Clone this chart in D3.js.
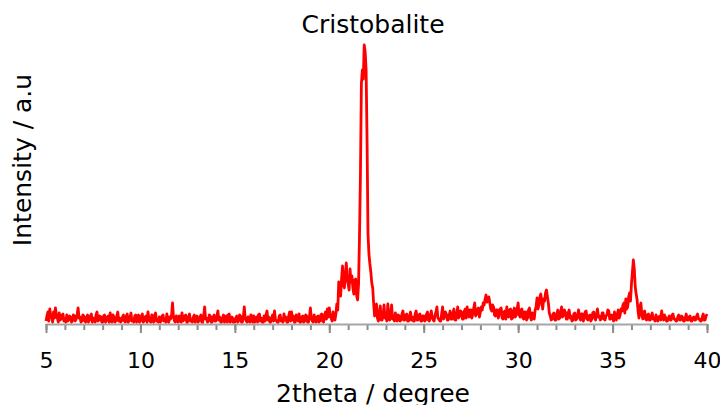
<!DOCTYPE html>
<html>
<head>
<meta charset="utf-8">
<script src="https://cdn.jsdelivr.net/npm/d3@7"></script>
<style>
body { margin: 0; background: #fff; }
text { font-family: "DejaVu Sans", sans-serif; fill: #000; }
</style>
</head>
<body>
<svg width="720" height="405"></svg>
<script>
// XRD pattern, 2theta 5..40 step 0.05, intensity in arbitrary units
var thetaStart = 5, thetaStep = 0.05
var intensity = [
  3,8, 12,3, 15,9, 7,2, 12,6, 16,9, 6,2, 11,4, 5,9, 10,3,          // 5
  5,2, 9,3, 4,8, 7,2, 3,9, 8,3, 5,10, 16,6, 7,2, 3,9,              // 6
  8,3, 2,7, 9,2, 4,8, 10,2, 6,3, 2,9, 12,3, 4,8, 7,2,              // 7
  2,8, 9,2, 3,7, 8,2, 11,3, 2,9, 7,2, 3,8, 12,3, 6,2,              // 8
  3,7, 9,3, 2,8, 10,2, 3,7, 11,3, 4,2, 8,9, 2,6, 9,2,              // 9
  3,8, 10,2, 3,7, 8,2, 12,5, 3,2, 9,3, 2,9, 11,3, 4,2,             // 10
  7,2, 3,8, 9,3, 4,2, 10,3, 2,7, 5,9, 21,7, 3,2, 8,3,              // 11
  2,8, 7,2, 11,3, 4,8, 9,2, 2,7, 10,3, 3,2, 7,9, 2,5,              // 12
  8,2, 3,7, 9,2, 2,8, 17,5, 6,2, 3,9, 8,2, 2,7, 9,3,               // 13
  3,8, 13,4, 7,2, 2,6, 9,2, 3,8, 2,9, 10,2, 3,7, 2,5,              // 14
  2,6, 8,2, 3,9, 8,2, 2,7, 17,6, 3,2, 7,3, 2,9, 8,2,               // 15
  8,2, 3,7, 2,9, 10,3, 6,2, 2,8, 3,9, 13,4, 7,2, 2,6,              // 16
  9,3, 13,5, 3,2, 2,8, 9,3, 3,2, 10,4, 7,2, 2,8, 12,3,             // 17
  12,4, 8,2, 2,9, 7,3, 10,2, 2,7, 8,2, 3,9, 8,2, 2,7,              // 18
  16,6, 3,2, 9,3, 2,7, 8,2, 3,9, 10,3, 2,9, 12,5, 15,7,            // 19
  16,8, 6,3, 12,7, 4,10, 20,14, 42,30, 28,45, 58,40, 36,50, 61,44, // 20
  40,34, 55,42, 48,36, 30,44, 45,28, 24,40, 88,150, 240,254, 245,279, 272,254, // 21
  184,90, 70,60, 52,41, 36,20, 8,14, 20,6, 3,10, 18,4, 4,9, 19,6,  // 22
  6,3, 20,7, 4,10, 19,5, 6,3, 11,4, 3,9, 8,3, 4,10, 13,4,          // 23
  4,9, 10,3, 3,8, 12,4, 7,3, 3,10, 13,4, 4,9, 10,3, 3,8,           // 24
  8,3, 4,10, 12,4, 3,8, 13,6, 4,3, 9,12, 17,6, 5,3, 3,10,          // 25
  17,5, 7,12, 10,4, 4,9, 13,5, 5,11, 15,4, 4,10, 17,6, 8,13,       // 26
  12,5, 5,13, 15,6, 17,9, 7,14, 14,6, 10,16, 21,8, 10,15, 16,7,    // 27
  12,17, 14,21, 19,25, 29,22, 25,27, 21,15, 13,19, 17,9, 8,14, 14,6, // 28
  10,15, 16,6, 5,12, 13,5, 17,8, 7,14, 15,5, 6,13, 16,7, 9,15,     // 29
  21,9, 7,14, 15,6, 5,12, 12,4, 6,14, 16,7, 4,11, 10,5, 14,17,     // 30
  26,15, 19,27, 30,21, 15,25, 23,31, 34,27, 21,11, 8,4, 5,10, 11,4, // 31
  4,10, 14,5, 6,12, 17,7, 9,14, 12,5, 5,11, 14,6, 8,3, 4,10,       // 32
  11,4, 5,9, 14,6, 4,10, 10,3, 6,12, 13,5, 4,8, 9,3, 5,11,         // 33
  12,6, 4,10, 15,7, 8,4, 5,11, 11,5, 4,8, 9,14, 13,5, 5,9,         // 34
  8,3, 12,6, 4,10, 14,6, 9,15, 13,19, 21,11, 25,15, 17,27, 31,23,  // 35
  40,52, 64,55, 37,30, 24,13, 6,17, 21,9, 5,12, 13,5, 4,9, 10,4,   // 36
  4,8, 11,5, 5,3, 9,4, 3,7, 8,4, 13,6, 4,9, 7,3, 3,6,              // 37
  8,4, 4,9, 10,5, 5,3, 3,7, 9,4, 4,8, 7,3, 3,6, 10,4,              // 38
  4,7, 8,3, 3,6, 7,4, 4,8, 10,5, 5,3, 3,7, 10,4, 4,8,              // 39
  10                                                               // 40
]
var majorTicks = [5, 10, 15, 20, 25, 30, 35, 40]
var minorTicks = d3.range(5, 41, 1)

var svg = d3.select("svg")

var x = d3.scaleLinear().domain([5, 40]).range([46, 707])
var y = d3.scaleLinear().domain([0, 280]).range([324, 44])

var data = intensity.map(function(v, i) {
  return {t: thetaStart + i * thetaStep, v: v}
})

// minor ticks (no labels)
var minorAxis = svg.append("g")
  .attr("transform", "translate(0,324)")
  .call(d3.axisBottom(x).tickValues(minorTicks).tickSize(6).tickFormat(""))
minorAxis.select(".domain").remove()
minorAxis.selectAll("line").attr("stroke", "#8c8c8c").attr("stroke-width", 2)

var majorAxis = svg.append("g")
  .attr("transform", "translate(0,324)")
  .call(d3.axisBottom(x).tickValues(majorTicks).tickSize(9).tickSizeOuter(0).tickPadding(19))
majorAxis.select(".domain").attr("stroke", "#a6a6a6").attr("stroke-width", 2)
majorAxis.selectAll("line").attr("stroke", "#8c8c8c").attr("stroke-width", 2)
majorAxis.selectAll("text")
  .attr("font-size", 22)
  .attr("fill", "#000")
  .attr("font-family", '"DejaVu Sans", sans-serif')

var line = d3.line()
  .x(function(d) { return x(d.t); })
  .y(function(d) { return y(d.v); })

svg.append("path")
  .datum(data)
  .attr("fill", "none")
  .attr("stroke", "#ff0000")
  .attr("stroke-width", 2.8)
  .attr("stroke-linejoin", "round")
  .attr("d", line)

svg.append("text")
  .attr("x", 373).attr("y", 33)
  .attr("text-anchor", "middle")
  .attr("font-size", 25)
  .text("Cristobalite")

svg.append("text")
  .attr("x", 373).attr("y", 402)
  .attr("text-anchor", "middle")
  .attr("font-size", 25)
  .text("2theta / degree")

svg.append("text")
  .attr("transform", "translate(31,160) rotate(-90)")
  .attr("text-anchor", "middle")
  .attr("font-size", 25)
  .text("Intensity / a.u")
</script>
</body>
</html>
